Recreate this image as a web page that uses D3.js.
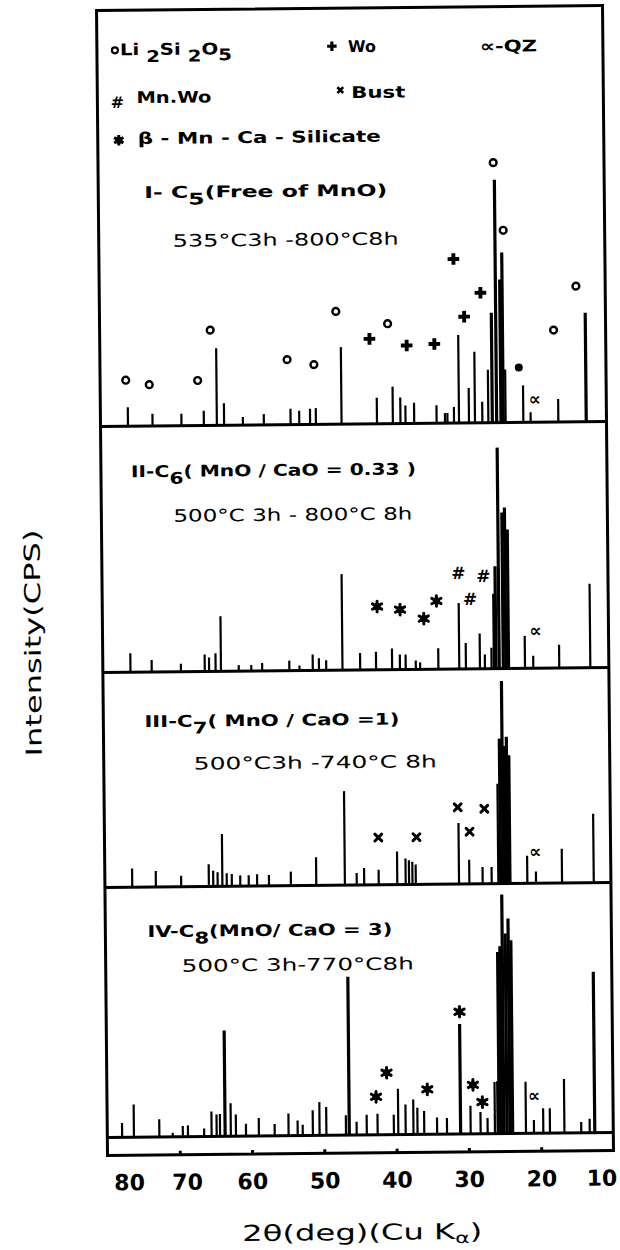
<!DOCTYPE html>
<html><head><meta charset="utf-8">
<script src="https://cdn.jsdelivr.net/npm/d3@7"></script>
<style>body{margin:0;background:#fff}svg{display:block}</style>
</head><body>
<svg id="c" width="620" height="1250"></svg>
<script>
// ---------------- data ----------------
const tickValues = [80, 70, 60, 50, 40, 30, 20, 10];
const xTitle = "2θ(deg)(Cu K";
const yTitle = "Intensity(CPS)";

// peaks: [2theta (deg), relative intensity]
const peaksI = [[76.2,7.6],[72.8,4.9],[68.8,4.8],[65.7,5.9],[63.9,30.8],[62.9,8.8],[60.3,3.2],[57.4,4.3],[53.7,6.3],[52.5,5.5],[51.0,6.3],[50.2,6.5],[46.65,30.8],[41.75,10.4],[39.55,14.8],[38.5,10.4],[37.8,7.2],[36.6,8.3],[33.5,7.2],[32.34,4],[32.0,4],[31.09,6.4],[30.4,35.2],[29.02,14],[28.19,28.4],[27.17,8.4],[26.34,21.2],[25.79,44],[25.19,97.2],[24.59,57.2],[24.27,68],[23.95,21.2],[21.5,14.8],[20.49,4],[16.66,9.2],[12.8,43.6]];
const peaksII = [[76.18,7.6],[73.24,4.8],[69.2,3.2],[65.9,6.8],[65.3,5.6],[64.4,7.2],[63.66,22],[61.2,2.4],[59.46,2.4],[57.96,3.2],[54.2,4],[52.8,2],[50.96,6.4],[50.1,4.8],[49.1,4],[46.85,38.4],[44.4,6.8],[42.2,7.2],[39.98,8.5],[38.9,6],[38.1,6],[36.7,3.6],[36.1,2.8],[33.58,8.4],[30.69,26.4],[29.77,10.4],[27.83,14.1],[27.14,5.7],[26.22,8.4],[25.9,30],[25.62,41],[25.16,88.4],[24.6,62.4],[24.24,64.4],[23.87,55.6],[21.6,13],[20.45,5],[16.86,9.3],[12.56,33.6]];
const peaksIII = [[76.22,7.5],[72.95,6.4],[69.45,4.4],[65.62,8.9],[65.01,6.3],[64.4,5.6],[63.75,20.9],[63.14,5.2],[62.44,4.9],[61.27,4.3],[60.1,4.3],[58.94,4.7],[57.3,4.3],[54.27,5.6],[50.76,11.3],[46.8,37.6],[45.16,4.8],[44.13,6.8],[42.12,6],[39.55,13.2],[38.39,10.4],[37.92,9.7],[37.45,9.1],[36.99,8],[31.01,24.4],[29.58,9.7],[27.74,6.7],[26.49,6.7],[25.57,40],[25.25,58],[24.88,81],[24.6,55],[24.28,58.7],[23.96,51.3],[21.56,11],[20.36,4.7],[16.76,13.7],[12.37,27.6]];
const peaksIV = [[77.95,5.7],[76.32,13.1],[72.8,7.1],[70.95,1.6],[69.55,4.3],[68.84,4.5],[66.6,3.2],[65.57,10],[64.87,8.7],[64.4,8.9],[63.7,42.3],[62.91,13.2],[62.2,8.7],[60.81,4.9],[59.03,7.2],[56.84,4.7],[54.92,8.9],[53.66,6],[52.96,4.3],[51.56,10.1],[50.63,13.3],[49.69,11.3],[46.98,7.9],[46.52,63.3],[45.5,5.3],[44.1,8.1],[42.6,8.4],[40.35,8],[39.74,18.3],[38.72,12],[37.64,14],[37.08,10.7],[36.15,9.3],[34.37,6.7],[33.0,6.5],[31.12,44],[29.73,11.3],[28.35,8.7],[27.38,6.3],[26.37,20.7],[26.0,21],[25.77,72.7],[25.45,75],[25.12,95.6],[24.7,80],[24.29,86],[23.92,77.3],[22.08,20.7],[20.97,5.3],[19.68,10],[18.76,10],[16.76,21.6],[14.43,4.3],[13.26,5.6],[12.56,64.4]];

// phase markers: [2theta, height]
const li2si2o5I = [[76.45,18.4],[73.2,16.5],[66.5,18],[64.7,38.1],[54.1,26],[50.4,23.9],[47.3,45.1],[40.15,40],[25.33,104],[24.04,76.9],[17.2,36.8],[14.05,54.3]];
const woI = [[42.68,34],[37.54,31.2],[33.71,31.7],[30.96,65.6],[29.55,42.5],[27.27,52]];
const dotI = [[22.06,22]];
const qzI = [[19.89,9.3]];
const silicateII = [[41.98,25.3],[38.81,24],[35.54,20.3],[33.77,27.3]];
const mnwoII = [[30.69,38.4],[27.23,37.1],[29.12,28]];
const qzII = [[20.1,15.1]];
const bustIII = [[42.12,18.9],[36.84,18.9],[31.1,30.7],[29.49,20.9],[27.42,30]];
const qzIII = [[20.41,12.7]];
const silicateIV = [[42.78,15.2],[41.29,24.8],[35.68,18],[31.12,48.9],[29.36,19.6],[28.07,12.7]];
const qzIV = [[20.92,15.1]];

const panelTitles = [["I- C","5","(Free  of  MnO)"],["II-C","6","( MnO / CaO = 0.33 )"],["III-C","7","( MnO / CaO =1)"],["IV-C","8","(MnO/ CaO = 3)"]];
const panelHeat = ["535°C3h -800°C8h","500°C 3h - 800°C 8h","500°C3h -740°C 8h","500°C 3h-770°C8h"];

// ---------------- drawing ----------------
const svg = d3.select("#c");
svg.append("rect").attr("width",620).attr("height",1250).attr("fill","#fff");
const g = svg.append("g").attr("transform","rotate(-0.55,355,580)");
const FONT = "'DejaVu Sans', sans-serif";

const x = d3.scaleLinear().domain([80,10]).range([102,608]);
const hgt = d3.scaleLinear().domain([0,100]).range([0,250]);
const baselines = [424,670,885,1135];
const boxTop = 8, stripBottom = 1153;

// frame
g.append("rect").attr("x",x(80)).attr("y",boxTop).attr("width",x(10)-x(80)).attr("height",stripBottom-boxTop)
 .attr("fill","none").attr("stroke","#000").attr("stroke-width",3);
g.selectAll("line.sep").data(baselines).join("line").attr("class","sep")
 .attr("x1",x(80)).attr("x2",x(10)).attr("y1",d=>d).attr("y2",d=>d)
 .attr("stroke","#000").attr("stroke-width",3);

// peaks
const panels = [peaksI,peaksII,peaksIII,peaksIV];
panels.forEach((pk,i)=>{
  const b = baselines[i];
  g.append("g").selectAll("line").data(pk).join("line")
   .attr("x1",d=>x(d[0])).attr("x2",d=>x(d[0]))
   .attr("y1",b).attr("y2",d=>b-hgt(d[1]))
   .attr("stroke","#000").attr("stroke-width",d=>d[1]>40?3.2:2.2)
   .attr("stroke-linecap","butt");
});

// marker helpers
function circles(arr,b,r){
  g.append("g").selectAll("circle").data(arr).join("circle")
   .attr("cx",d=>x(d[0])).attr("cy",d=>b-hgt(d[1])).attr("r",r||3.4)
   .attr("fill","none").attr("stroke","#000").attr("stroke-width",2.4);
}
function dots(arr,b,r){
  g.append("g").selectAll("circle").data(arr).join("circle")
   .attr("cx",d=>x(d[0])).attr("cy",d=>b-hgt(d[1])).attr("r",r||3.8).attr("fill","#000");
}
function sym(arr,b,type,size,stroke){
  const s = d3.symbol().type(type).size(size);
  g.append("g").selectAll("path").data(arr).join("path")
   .attr("transform",d=>`translate(${x(d[0])},${b-hgt(d[1])})`).attr("d",s)
   .attr("fill",stroke?"none":"#000").attr("stroke",stroke?"#000":"none").attr("stroke-width",stroke||0)
   .attr("stroke-linecap","round");
}
function glyph(arr,b,t,fs){
  g.append("g").selectAll("text").data(arr).join("text")
   .attr("x",d=>x(d[0])).attr("y",d=>b-hgt(d[1])).attr("dy","0.35em")
   .attr("text-anchor","middle").attr("font-family",FONT).attr("font-weight","bold")
   .attr("font-size",fs).text(t);
}
function stars(arr,b){
  sym(arr,b,d3.symbolAsterisk,80,3);
  dots(arr,b,3.6);
}
circles(li2si2o5I,baselines[0]);
sym(woI,baselines[0],d3.symbolCross,75);
dots(dotI,baselines[0],4);
glyph(qzI,baselines[0],"∝",17);
stars(silicateII,baselines[1]);
glyph(mnwoII,baselines[1],"#",17);
glyph(qzII,baselines[1],"∝",17);
sym(bustIII,baselines[2],d3.symbolTimes,32,3);
glyph(qzIII,baselines[2],"∝",17);
stars(silicateIV,baselines[3]);
glyph(qzIV,baselines[3],"∝",17);

// text helper
function txt(xp,yp,s,fs,len,w){
  const t = g.append("text").attr("x",xp).attr("y",yp).attr("font-family",FONT)
    .attr("font-size",fs).attr("font-weight",w||"bold");
  if(len) t.attr("textLength",len).attr("lengthAdjust","spacingAndGlyphs");
  if(typeof s==="string") t.text(s);
  return t;
}
// legend
g.append("circle").attr("cx",120).attr("cy",48).attr("r",3).attr("fill","none").attr("stroke","#000").attr("stroke-width",2.2);
{
  const t = txt(125,53,null,16,112);
  t.append("tspan").text("Li ");
  t.append("tspan").attr("dy",7).text("2");
  t.append("tspan").attr("dy",-7).text("Si ");
  t.append("tspan").attr("dy",7).text("2");
  t.append("tspan").attr("dy",-7).text("O");
  t.append("tspan").attr("dy",6).text("5");
}
g.append("path").attr("transform","translate(337,46)").attr("d",d3.symbol().type(d3.symbolCross).size(50)).attr("fill","#000");
txt(353,52,"Wo",16,28);
txt(485,53,"∝-QZ",16,57);
g.append("text").attr("x",122).attr("y",100).attr("dy","0.35em").attr("text-anchor","middle")
 .attr("font-family",FONT).attr("font-weight","bold").attr("font-size",16).text("#");
txt(141,101,"Mn.Wo",16,75);
g.append("path").attr("transform","translate(345,90)").attr("d",d3.symbol().type(d3.symbolTimes).size(24))
 .attr("fill","none").attr("stroke","#000").attr("stroke-width",2.6);
txt(356,98,"Bust",16,54);
g.append("path").attr("transform","translate(123,138)").attr("d",d3.symbol().type(d3.symbolAsterisk).size(80))
 .attr("fill","none").attr("stroke","#000").attr("stroke-width",3);
g.append("circle").attr("cx",123).attr("cy",138).attr("r",3.6).attr("fill","#000");
txt(142,142,"β - Mn -  Ca - Silicate",16,243);

// panel titles
const titlePos = [[148,196,243],[132,475,285],[143,725,255],[144,935,245]];
const heatPos = [[176,245,226],[174,520,239],[192,768,243],[178,970,232]];
panelTitles.forEach((p,i)=>{
  const [tx,ty,tl] = titlePos[i];
  const t = txt(tx,ty,null,16,tl);
  t.append("tspan").text(p[0]);
  t.append("tspan").attr("dy",7).text(p[1]);
  t.append("tspan").attr("dy",-7).text(p[2]);
  const [hx,hy,hl] = heatPos[i];
  txt(hx,hy,panelHeat[i],17,hl,"normal");
});

// x axis: small tick bumps and labels
const axTicks = d3.axisTop(x).tickValues(tickValues.slice(1,-1)).tickSize(4).tickFormat("");
const ga = g.append("g").attr("transform",`translate(0,${stripBottom})`).call(axTicks);
ga.select(".domain").remove();
ga.selectAll(".tick line").attr("stroke","#000").attr("stroke-width",3);
const axLab = d3.axisBottom(x).tickValues(tickValues).tickSize(0).tickFormat(d3.format("d"));
const gl = g.append("g").attr("transform",`translate(0,${stripBottom})`).call(axLab);
gl.select(".domain").remove();
gl.selectAll(".tick text").attr("dy",null).attr("y",35)
  .attr("font-family",FONT).attr("font-weight","bold").attr("font-size",22).attr("fill","#000")
  .attr("text-anchor",d=>d===80?"start":d===10?"end":"middle")
  .attr("dx",d=>d===80?6:d===10?3:(d===70?7:0));

// axis titles
{
  const t = g.append("text").attr("x",356).attr("y",1240).attr("text-anchor","middle")
   .attr("font-family",FONT).attr("font-size",22).attr("textLength",240).attr("lengthAdjust","spacingAndGlyphs");
  t.append("tspan").text(xTitle);
  t.append("tspan").attr("dy",4).attr("font-size",15).text("α");
  t.append("tspan").attr("dy",-4).text(")");
}
g.append("text").attr("transform","translate(40,640) rotate(-90)").attr("text-anchor","middle")
 .attr("font-family",FONT).attr("font-size",22).attr("textLength",227).attr("lengthAdjust","spacingAndGlyphs")
 .text(yTitle);
</script>
</body></html>
